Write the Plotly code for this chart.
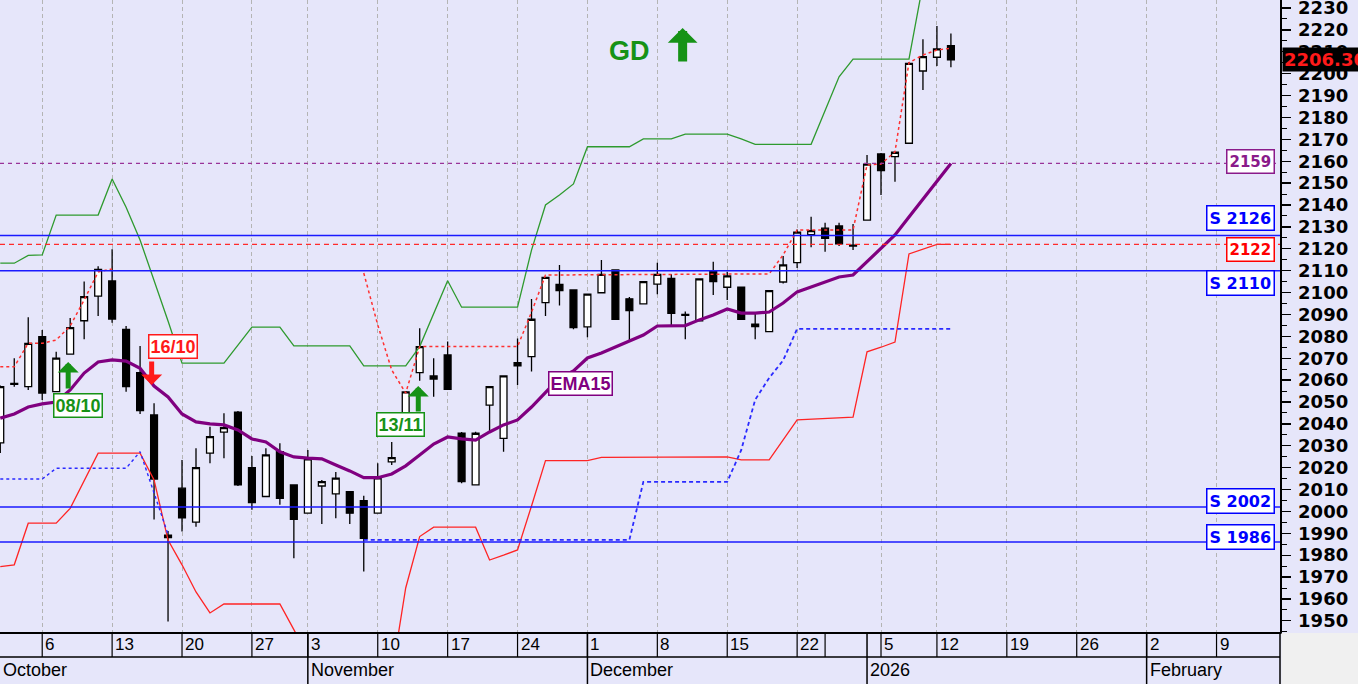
import plotly.graph_objects as go
import pandas as pd

# ---------------- calendar (Athens exchange trading days) ----------------
HOLIDAYS = ["2025-10-28", "2025-12-24", "2025-12-25", "2025-12-26", "2026-01-01", "2026-01-06"]
trading_days = [d.strftime("%Y-%m-%d") for d in pd.bdate_range("2025-10-01", "2026-02-13")
                if d.strftime("%Y-%m-%d") not in HOLIDAYS]
day_index = {d: i for i, d in enumerate(trading_days)}

# ---------------- daily candles (Oct 1 2025 .. Jan 13 2026) ----------------
open_ = [2031.3, 2058.5, 2057.0, 2079.8, 2054.7, 2071.9, 2087.1, 2098.4, 2105.3, 2083.2,
         2063.4, 2044.1, 1989.2, 2010.6, 1995.1, 2026.6, 2036.2, 2045.3, 2020.0, 2006.8,
         2027.3, 2012.1, 1999.2, 2011.6, 2008.0, 2009.0, 2004.9, 1999.2, 2022.6, 2044.1,
         2063.4, 2061.9, 2071.5, 2035.7, 2012.1, 2048.6, 2033.4, 2068.0, 2070.7, 2095.4,
         2103.7, 2101.2, 2084.3, 2099.9, 2110.3, 2097.1, 2094.8, 2103.8, 2106.5, 2090.0,
         2087.1, 2110.0, 2102.4, 2102.4, 2085.6, 2082.1, 2104.8, 2113.7, 2126.4, 2129.4,
         2130.4, 2121.6, 2133.1, 2163.3, 2162.1, 2168.2, 2201.2, 2207.5, 2212.8]
high = [2057.5, 2070.0, 2088.7, 2082.9, 2072.9, 2088.4, 2105.0, 2112.0, 2119.8, 2084.7,
        2075.6, 2049.4, 1991.0, 2023.5, 2028.9, 2038.7, 2044.9, 2045.9, 2025.3, 2028.9,
        2031.1, 2012.1, 2028.1, 2014.4, 2018.0, 2009.1, 2007.1, 2022.0, 2031.7, 2055.0,
        2083.7, 2070.0, 2077.6, 2036.3, 2036.4, 2057.3, 2061.9, 2079.0, 2097.0, 2107.1,
        2112.6, 2101.2, 2099.6, 2114.9, 2110.3, 2098.0, 2105.3, 2113.6, 2108.3, 2091.3,
        2106.2, 2114.1, 2109.5, 2102.5, 2090.5, 2101.0, 2116.7, 2128.8, 2134.6, 2131.9,
        2131.9, 2131.3, 2162.8, 2163.8, 2164.2, 2205.3, 2215.7, 2221.8, 2218.4]
low = [2026.7, 2057.0, 2055.5, 2050.9, 2054.6, 2071.9, 2078.7, 2089.3, 2086.2, 2054.7,
       2044.5, 1996.3, 1949.7, 1990.8, 1993.0, 2022.0, 2024.3, 2011.6, 2000.7, 2006.6,
       2003.0, 1978.6, 1999.1, 1994.3, 1996.9, 1994.3, 1972.5, 1999.1, 2021.2, 2044.1,
       2059.7, 2052.4, 2055.5, 2012.9, 2012.1, 2036.0, 2027.3, 2057.8, 2063.9, 2089.3,
       2094.1, 2083.2, 2079.6, 2099.8, 2087.8, 2078.3, 2094.6, 2099.2, 2085.2, 2078.7,
       2087.0, 2098.9, 2096.6, 2087.5, 2078.7, 2082.0, 2104.1, 2111.2, 2120.7, 2118.6,
       2121.3, 2119.4, 2133.1, 2144.6, 2150.6, 2168.1, 2192.5, 2203.5, 2202.9]
close = [2057.0, 2058.0, 2076.8, 2054.1, 2070.0, 2084.0, 2098.1, 2110.6, 2087.9, 2057.0,
         2046.0, 2014.8, 1988.0, 1997.0, 2020.0, 2034.2, 2038.3, 2012.1, 2004.0, 2025.8,
         2006.0, 1996.4, 2024.0, 2013.6, 2015.2, 1999.2, 1987.7, 2015.3, 2024.6, 2054.6,
         2075.3, 2060.5, 2055.8, 2013.6, 2035.7, 2057.0, 2061.9, 2066.5, 2087.8, 2106.9,
         2100.9, 2084.0, 2099.3, 2108.3, 2087.8, 2091.7, 2105.0, 2108.3, 2090.5, 2089.6,
         2106.2, 2105.0, 2107.6, 2087.8, 2084.4, 2100.9, 2112.6, 2127.6, 2128.3, 2124.8,
         2122.2, 2121.2, 2158.7, 2155.7, 2164.1, 2204.7, 2207.8, 2211.3, 2206.3]

ema15 = [2042.6, 2044.5, 2047.7, 2049.1, 2050.0, 2055.5, 2063.2, 2068.3, 2069.2, 2068.7,
         2065.4, 2057.3, 2052.3, 2044.5, 2040.9, 2040.0, 2039.5, 2037.2, 2033.1, 2031.7,
         2027.2, 2024.9, 2024.3, 2024.0, 2021.2, 2018.5, 2015.4, 2015.4, 2017.1, 2020.8,
         2025.8, 2030.8, 2034.0, 2033.1, 2032.6, 2036.3, 2039.5, 2041.8, 2047.7, 2054.1,
         2061.0, 2064.2, 2070.1, 2072.4, 2075.1, 2077.9, 2080.6, 2084.7, 2084.9, 2084.9,
         2087.5, 2089.7, 2092.5, 2090.6, 2090.6, 2091.1, 2095.2, 2100.3, 2102.5, 2104.8,
         2107.1, 2108.0, 2114.0, 2119.9, 2126.3, 2134.5, 2142.7, 2151.0, 2159.0]

# indicator polylines: vertices as (trading-day index, value)
upper_idx = [0, 1, 2, 3, 4, 7, 8, 9, 10, 11, 12, 13, 16, 18, 20, 21, 25, 26, 29, 30, 32, 33, 37,
             38, 39, 40, 41, 42, 45, 46, 48, 49, 52, 53, 54, 58, 59, 60, 61, 65, 66]
upper_val = [2113.4, 2113.4, 2117.0, 2117.2, 2135.4, 2135.4, 2151.9, 2139.0, 2124.0, 2106.0,
             2087.0, 2067.7, 2067.7, 2084.2, 2084.2, 2075.6, 2075.6, 2066.5, 2066.5, 2075.3,
             2105.4, 2093.3, 2093.3, 2119.4, 2140.0, 2144.6, 2149.6, 2166.6, 2166.6, 2170.2,
             2170.2, 2172.4, 2172.4, 2170.2, 2167.7, 2167.7, 2183.4, 2198.6, 2206.6, 2206.6, 2241.0]

lower_idx = [0, 1, 2, 4, 5, 7, 10, 11, 12, 13, 14, 15, 16, 20, 21, 22, 28, 29, 30, 31, 34, 35,
             36, 37, 38, 39, 42, 43, 52, 53, 55, 57, 61, 62, 63, 64, 65, 66, 67, 68]
lower_val = [1974.8, 1975.6, 1994.6, 1994.6, 2001.4, 2026.6, 2026.6, 2014.4, 1986.9, 1975.6,
             1963.2, 1953.6, 1957.7, 1957.7, 1946.0, 1934.0, 1925.0, 1965.0, 1988.5, 1992.8,
             1992.8, 1977.8, 1980.0, 1982.4, 2002.5, 2023.2, 2023.2, 2024.7, 2024.9, 2023.5,
             2023.5, 2041.8, 2043.1, 2072.9, 2075.0, 2077.4, 2117.6, 2119.9, 2122.0, 2122.0]

stop_a_idx = [0, 1, 2, 3, 4, 5, 6, 7, 8]
stop_a_val = [2066.1, 2066.1, 2076.8, 2076.8, 2078.3, 2084.7, 2096.6, 2109.4, 2110.8]
stop_b_idx = [26, 27, 28, 29, 30, 37, 38, 39, 55, 56, 57, 61, 62, 63, 64, 65, 66, 67, 68]
stop_b_val = [2108.9, 2085.2, 2064.6, 2054.1, 2075.3, 2075.3, 2091.0, 2108.0, 2108.5, 2117.2,
              2128.6, 2128.6, 2158.3, 2158.7, 2164.3, 2205.0, 2208.5, 2210.8, 2211.6]

trail_a_idx = [0, 3, 4, 9, 10, 12]
trail_a_val = [2014.8, 2014.8, 2019.7, 2019.7, 2027.3, 1989.5]
trail_b_idx = [26, 45, 46, 52, 53, 54, 55, 56, 57, 68]
trail_b_val = [1987.0, 1987.0, 2013.5, 2013.5, 2028.0, 2051.0, 2061.0, 2069.0, 2083.4, 2083.4]

# horizontal levels
support_levels = [2126, 2110, 2002, 1986]
stop_level = 2122
target_level = 2159
last_price = 2206.30

# axis labels
week_ticks = ["2025-10-06", "2025-10-13", "2025-10-20", "2025-10-27", "2025-11-03", "2025-11-10",
              "2025-11-17", "2025-11-24", "2025-12-01", "2025-12-08", "2025-12-15", "2025-12-22",
              "2026-01-05", "2026-01-12", "2026-01-19", "2026-01-26", "2026-02-02", "2026-02-09"]
week_labels = ["6", "13", "20", "27", "3", "10", "17", "24", "1", "8", "15", "22",
               "5", "12", "19", "26", "2", "9"]
unlabeled_week = ["2025-12-29"]
month_starts = ["2025-11-03", "2025-12-01", "2026-01-02", "2026-02-02"]
month_labels = ["October", "November", "December", "2026", "February"]

signal_dates = ["2025-10-08", "2025-10-16", "2025-11-13"]
signal_labels = ["08/10", "16/10", "13/11"]

# ---------------- figure ----------------
BG = "#e6e6fa"
PH = 632.0  # plot height in px
X0, X1 = -0.02, 91.54
Y0, Y1 = 1944.9, 2233.65

fig = go.Figure()
xi = list(range(len(close)))
fig.add_trace(go.Candlestick(
    x=xi, open=open_, high=high, low=low, close=close,
    increasing=dict(line=dict(color="black", width=1.3), fillcolor="white"),
    decreasing=dict(line=dict(color="black", width=1.3), fillcolor="black"),
    whiskerwidth=0, showlegend=False, hoverinfo="skip"))

def line(x, y, color, width, dash=None):
    fig.add_trace(go.Scatter(x=x, y=y, mode="lines", showlegend=False, hoverinfo="skip",
                             line=dict(color=color, width=width, dash=dash)))

line(lower_idx, lower_val, "#ff2424", 1.3)
line(upper_idx, upper_val, "#2e9a2e", 1.3)
line(trail_a_idx, trail_a_val, "#2a2aff", 1.4, "3px,3px")
line(trail_b_idx, trail_b_val, "#2a2aff", 1.8, "4px,3px")
line(stop_a_idx, stop_a_val, "#ff3030", 1.5, "3px,3px")
line(stop_b_idx, stop_b_val, "#ff3030", 1.5, "3px,3px")
line(xi, ema15, "#800080", 3.2)

shapes = []
for lv in support_levels:
    shapes.append(dict(type="line", xref="paper", x0=0, x1=1, yref="y", y0=lv, y1=lv,
                       line=dict(color="#1a1aff", width=1.5)))
shapes.append(dict(type="line", xref="paper", x0=0, x1=1, yref="y", y0=stop_level, y1=stop_level,
                   line=dict(color="#ff2a2a", width=1.3, dash="5px,4px")))
shapes.append(dict(type="line", xref="paper", x0=0, x1=1, yref="y", y0=target_level, y1=target_level,
                   line=dict(color="#993399", width=1.3, dash="4px,4px")))

# date axis frame
row_sep = -25 / PH
bottom = -53 / PH
shapes.append(dict(type="line", xref="paper", x0=0, x1=1, yref="paper", y0=row_sep, y1=row_sep,
                   line=dict(color="black", width=1.5)))
shapes.append(dict(type="line", xref="paper", x0=1, x1=1, yref="paper", y0=0, y1=bottom,
                   line=dict(color="black", width=1.5)))
shapes.append(dict(type="rect", xref="paper", x0=1.0012, x1=1.08, yref="paper", y0=-0.0015, y1=-0.1,
                   fillcolor="#f0f0f0", line=dict(width=0)))
for d in week_ticks + unlabeled_week:
    shapes.append(dict(type="line", xref="x", x0=day_index[d], x1=day_index[d], yref="paper",
                       y0=0, y1=row_sep, line=dict(color="black", width=1.2)))
for d in month_starts:
    shapes.append(dict(type="line", xref="x", x0=day_index[d], x1=day_index[d], yref="paper",
                       y0=0, y1=bottom, line=dict(color="black", width=1.5)))

ann = []
for d, t in zip(week_ticks, week_labels):
    ann.append(dict(x=day_index[d], xref="x", y=-13 / PH, yref="paper", text=t, showarrow=False,
                    xanchor="left", yanchor="middle", xshift=1,
                    font=dict(family="Liberation Sans", size=17, color="black")))
month_x = [X0] + [day_index[d] for d in month_starts]
for mx, t in zip(month_x, month_labels):
    ann.append(dict(x=mx, xref="x", y=-38 / PH, yref="paper", text=t, showarrow=False,
                    xanchor="left", yanchor="middle", xshift=1,
                    font=dict(family="Liberation Sans", size=18, color="black")))

# right side level labels
def level_label(value, text, color, yshift, size):
    ann.append(dict(x=0.9961, xref="paper", y=value, yref="y", text=text, showarrow=False,
                    xanchor="right", yanchor="middle", yshift=yshift, bgcolor="white",
                    bordercolor=color, borderwidth=1.5, borderpad=2,
                    font=dict(family="DejaVu Sans", size=size, color=color, weight="bold")))

level_label(target_level, "2159", "#8a1a8a", 2, 15)
level_label(support_levels[0], "S 2126", "#0000ff", 17.7, 16)
level_label(stop_level, "2122", "#ff0000", -5.6, 15)
level_label(support_levels[1], "S 2110", "#0000ff", -12.3, 16)
level_label(support_levels[2], "S 2002", "#0000ff", 5.6, 16)
level_label(support_levels[3], "S 1986", "#0000ff", 4.7, 16)

# last price tag
ann.append(dict(x=1, xref="paper", y=last_price, yref="y", text=f"{last_price:.2f}", showarrow=False,
                xanchor="left", yanchor="middle", xshift=2, bgcolor="black", borderpad=1,
                font=dict(family="DejaVu Sans", size=18, color="#ff1a1a", weight="bold")))

# signals
GREEN = "#169216"
RED = "#ff1a1a"
sig = [  # (arrow tip value, tail offset px, tip xshift, label value, label xshift, color)
    (2068.3, 28, -2, 2048.6, 8, GREEN),
    (2057.8, -25, -2.4, 2075.4, 19, RED),
    (2057.3, 27, -1.4, 2039.5, -19, GREEN),
]
for d, t, (tipv, ay, tx, lv, lx, c) in zip(signal_dates, signal_labels, sig):
    i = day_index[d]
    ann.append(dict(x=i, xref="x", y=tipv, yref="y", text="", showarrow=True, ax=0, ay=ay,
                    xshift=tx, arrowhead=1, arrowsize=0.7, arrowwidth=5, arrowcolor=c, standoff=0))
    ann.append(dict(x=i, xref="x", y=lv, yref="y", text=t, showarrow=False, xshift=lx,
                    xanchor="center", yanchor="middle", bgcolor="white", bordercolor=c,
                    borderwidth=1.5, borderpad=1,
                    font=dict(family="Liberation Sans", size=18, color=c, weight="bold")))

ann.append(dict(x=41.47, xref="x", y=2058.5, yref="y", text="EMA15", showarrow=False,
                bgcolor="white", bordercolor="#800080", borderwidth=1.5, borderpad=1,
                font=dict(family="Liberation Sans", size=18, color="#800080", weight="bold")))

# GD marker
ann.append(dict(x=45.04, xref="x", y=2210.5, yref="y", text="GD", showarrow=False,
                font=dict(family="Liberation Sans", size=27, color=GREEN, weight="bold")))
ann.append(dict(x=48.81, xref="x", y=2220.9, yref="y", text="", showarrow=True, ax=0, ay=35,
                arrowhead=1, arrowsize=0.55, arrowwidth=9, arrowcolor=GREEN, standoff=0))

fig.update_layout(
    width=1358, height=684, autosize=False,
    margin=dict(l=0, r=78, t=0, b=52, pad=0),
    paper_bgcolor=BG, plot_bgcolor=BG,
    showlegend=False, shapes=shapes, annotations=ann,
    xaxis=dict(range=[X0, X1], rangeslider=dict(visible=False), showticklabels=False,
               tickmode="array", tickvals=[day_index[d] for d in week_ticks], ticks="",
               showgrid=True, gridcolor="#b4b4b4", gridwidth=1, griddash="4px,3px",
               zeroline=False, showline=True, linecolor="black", linewidth=1.5, fixedrange=True),
    yaxis=dict(range=[Y0, Y1], side="right", tickmode="linear", tick0=1950, dtick=10,
               ticks="outside", ticklen=9, tickwidth=1.3, tickcolor="black",
               minor=dict(ticks="outside", ticklen=5, dtick=5, tick0=1945, tickcolor="black", tickwidth=1),
               showgrid=False, zeroline=False, showline=True, linecolor="black", linewidth=1.5,
               ticklabelstandoff=4, ticklabeloverflow="allow", automargin=False, fixedrange=True,
               tickfont=dict(family="DejaVu Sans", size=18, color="black", weight="bold")),
)

fig.write_html("out.html", config={"displayModeBar": False, "staticPlot": True},
               post_script="document.body.style.margin='0px';document.body.style.overflow='hidden';")
